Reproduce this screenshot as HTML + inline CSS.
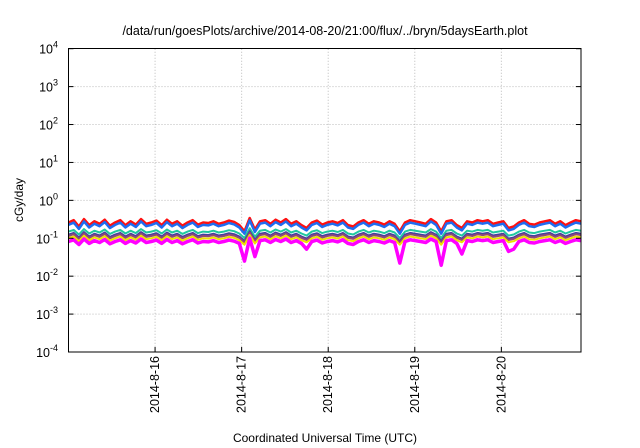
<!DOCTYPE html>
<html><head><meta charset="utf-8"><style>
body{margin:0;background:#fff;}
svg{display:block;font-family:"Liberation Sans",sans-serif;}
</style></head><body>
<svg id="chart" width="640" height="448">
<text x="325" y="35" font-size="12.5" text-anchor="middle" fill="#000">/data/run/goesPlots/archive/2014-08-20/21:00/flux/../bryn/5daysEarth.plot</text>
<g id="grid"></g>
<g id="series"></g>
<rect x="68.5" y="48.5" width="512.5" height="303.5" fill="none" stroke="#000" stroke-width="1"/>
<g id="axes"></g>
<text transform="translate(23,200) rotate(-90)" font-size="12" text-anchor="middle">cGy/day</text>
<text x="325" y="442" font-size="12" text-anchor="middle">Coordinated Universal Time (UTC)</text>
</svg>
<script>
const yTickExps = [-4,-3,-2,-1,0,1,2,3,4];
const xTickDays = [16,17,18,19,20];
const xTickLabels = ["2014-8-16","2014-8-17","2014-8-18","2014-8-19","2014-8-20"];
const seriesNames = ["red","blue","teal","navy","plum","yellow","magenta"];
const seriesColors = ["#ff1010","#1f6cf0","#20c8a0","#4040a0","#904878","#f0e000","#ff00ff"];
const seriesLevels = [0.26,0.225,0.15,0.125,0.115,0.1,0.082];
const baseShape = [1.0,1.1,0.85,1.15,0.9,1.05,0.95,1.12,0.88,1.0,1.1,0.9,1.05,0.92,1.15,0.95,1.0,1.08,0.9,1.12,
0.95,1.05,0.88,1.0,1.1,0.92,1.0,0.98,1.05,0.95,1.0,1.08,1.02,0.9,0.7,1.2,0.75,1.05,1.1,0.95,
1.12,1.0,1.15,0.95,1.05,0.9,0.8,1.0,1.08,0.92,1.0,1.05,0.98,1.1,0.9,0.85,1.0,1.1,0.95,1.05,
1.0,0.92,1.05,0.95,0.7,1.0,1.1,1.05,1.0,0.95,1.15,1.0,0.7,1.05,1.1,0.9,0.8,1.05,1.0,1.1,
1.05,1.1,0.95,1.0,1.05,0.8,0.85,1.0,1.1,0.95,0.92,1.0,1.05,1.1,0.95,1.05,0.9,1.0,1.1,1.05];
const magentaDips = {34:0.45,36:0.55,46:0.8,64:0.4,72:0.35,76:0.6,85:0.7,86:0.75};
const dayStart = 15.0, dayEnd = 20.92;

const X0=68.5,X1=581,Y0=48.7,Y1=352;
const xs=d=>X0+(d-dayStart)/(dayEnd-dayStart)*(X1-X0);
const ys=v=>Y0+(4-Math.log10(v))/8*(Y1-Y0);
const NS="http://www.w3.org/2000/svg";
function mk(t,a,p){const e=document.createElementNS(NS,t);for(const k in a)e.setAttribute(k,a[k]);p.appendChild(e);return e;}
const grid=document.getElementById('grid'),axes=document.getElementById('axes'),ser=document.getElementById('series');
yTickExps.forEach(ex=>{
  const y=ys(Math.pow(10,ex));
  if(ex>-4&&ex<4){const g=mk('line',{x1:X0,x2:X1,y1:y,y2:y,stroke:'#bbb','stroke-dasharray':'1,2'},grid);
  
  }
  const t=mk('text',{x:58,y:y+5,'font-size':12.5,'text-anchor':'end'},axes);
  
  
  t.textContent='10';
  const s=mk('tspan',{dy:-6,'font-size':9},t);s.textContent=ex;
  mk('line',{x1:X0,x2:X0+5,y1:y,y2:y,stroke:'#000'},axes);
  mk('line',{x1:X1,x2:X1-5,y1:y,y2:y,stroke:'#000'},axes);
});
xTickDays.forEach((d,i)=>{
  const x=xs(d);
  const g=mk('line',{x1:x,x2:x,y1:Y0,y2:Y1,stroke:'#bbb','stroke-dasharray':'1,2'},grid);
  
  
  mk('line',{x1:x,x2:x,y1:Y1,y2:Y1-5,stroke:'#000'},axes);
  const t=mk('text',{transform:`translate(${x+4},413) rotate(-90)`,'font-size':12.5},axes);
  
  
  t.textContent=xTickLabels[i];
});
const n=baseShape.length;
seriesNames.forEach((nm,si)=>{
  let pts=baseShape.map((b,i)=>{
    let v=seriesLevels[si]*Math.pow(b,si<2?1.5:1.1);
    if(si==6&&magentaDips[i])v*=magentaDips[i];
    const d=dayStart+i/(n-1)*(dayEnd-dayStart);
    return xs(d).toFixed(1)+','+ys(v).toFixed(1);
  }).join(' ');
  const p=mk('polyline',{points:pts,fill:'none',stroke:seriesColors[si],'stroke-width':si==6?3.5:(si<2?2.5:2),'stroke-linejoin':'round'},ser);
  
  
});
</script>
</body></html>
